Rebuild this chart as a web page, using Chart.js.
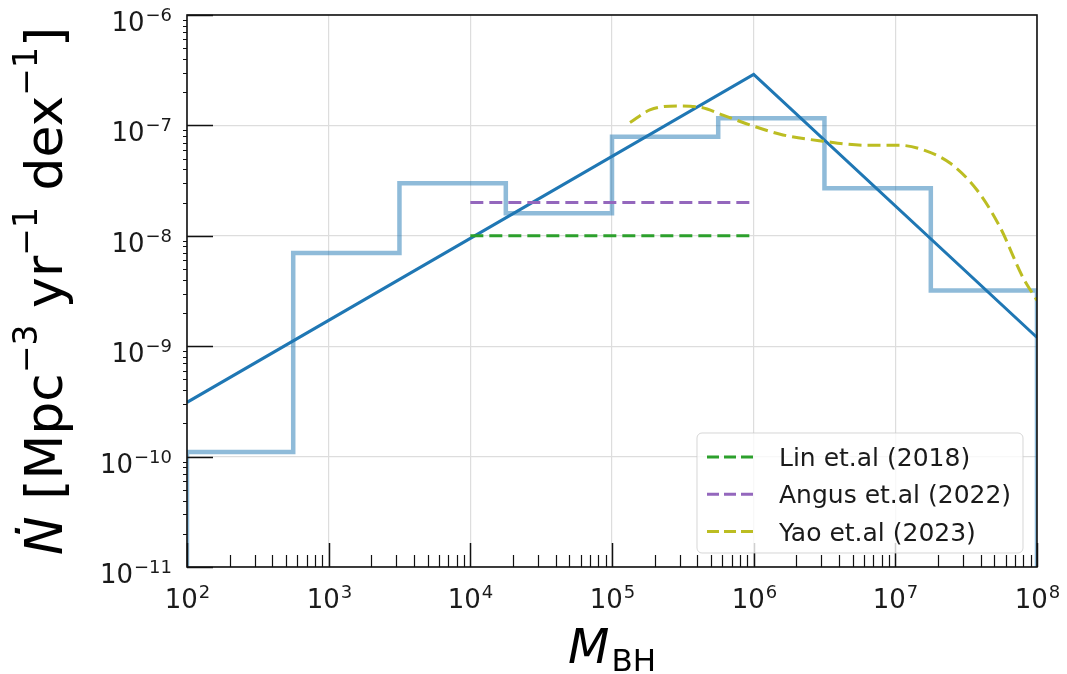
<!DOCTYPE html>
<html><head><meta charset="utf-8">
<script src="https://cdn.jsdelivr.net/npm/chart.js@4/dist/chart.umd.min.js"></script>
<style>html,body{margin:0;padding:0;background:#fff;}#wrap{width:1067px;height:674px;position:relative;}</style>
</head><body><div id="wrap"><canvas id="c" width="1067" height="674"></canvas></div>
<script>
// ---- data ----
const binEdges = [1e2, 5.62e2, 3.16e3, 1.78e4, 1e5, 5.62e5, 3.16e6, 1.78e7, 1e8];
const binRates = [1.1e-10, 7.0e-9, 3.0e-8, 1.6e-8, 7.9e-8, 1.16e-7, 2.7e-8, 3.2e-9];
const histFloor = 1e-11;
const modelMass = [1e2, 1e6, 1e8];
const modelRate = [3.1e-10, 2.9e-7, 1.2e-9];
const linMass = [1e4, 1e6];
const linRate = [1e-8, 1e-8];
const angusMass = [1e4, 1e6];
const angusRate = [2.0e-8, 2.0e-8];
const yaoMass = [1.34e5, 1.85e5, 2.87e5, 4.18e5, 6.07e5, 9.4e5, 1.61e6, 3.09e6, 6.3e6, 1.08e7, 1.57e7, 2.43e7, 3.77e7, 5.48e7, 7.95e7, 1e8];
const yaoRate = [1.06e-7, 1.38e-7, 1.50e-7, 1.46e-7, 1.24e-7, 1.01e-7, 8.2e-8, 7.2e-8, 6.6e-8, 6.6e-8, 6.0e-8, 4.56e-8, 2.6e-8, 1.2e-8, 4.2e-9, 2.6e-9];
const xTickExps = [2, 3, 4, 5, 6, 7, 8];
const yTickExps = [-11, -10, -9, -8, -7, -6];
const minorMults = [2, 3, 4, 5, 6, 7, 8, 9];
const legendLabels = ['Lin et.al (2018)', 'Angus et.al (2022)', 'Yao et.al (2023)'];
const xTitleMain = 'M', xTitleSub = 'BH';
const yTitleParts = [['Ṅ', 'i'], [' [Mpc', 'n'], ['\u22123', 's'], [' yr', 'n'], ['\u22121', 's'], [' dex', 'n'], ['\u22121', 's'], [']', 'n']];

// ---- build library data ----
const pts = (xs, ys) => xs.map((v, i) => ({x: v, y: ys[i]}));
const histPts = [{x: binEdges[0], y: histFloor}];
binRates.forEach((r, i) => histPts.push({x: binEdges[i], y: r}));
histPts.push({x: binEdges[binEdges.length - 1], y: binRates[binRates.length - 1]});
histPts.push({x: binEdges[binEdges.length - 1], y: histFloor});

const FONT = '"DejaVu Sans", sans-serif';
const dash = [13, 6];

function powLabel(ctx, exp, ax, baseline, align) {
  const base = '10', sup = (exp < 0 ? '\u2212' : '') + Math.abs(exp);
  ctx.font = '26px ' + FONT; const wb = ctx.measureText(base).width;
  ctx.font = '18px ' + FONT; const ws = ctx.measureText(sup).width;
  const total = wb + 1 + ws;
  const x0 = align === 'center' ? ax - total / 2 : ax - total;
  ctx.textAlign = 'left'; ctx.textBaseline = 'alphabetic';
  ctx.font = '26px ' + FONT; ctx.fillText(base, x0, baseline);
  ctx.font = '18px ' + FONT; ctx.fillText(sup, x0 + wb + 1, baseline - 10);
}

const decor = {
  id: 'decor',
  afterDraw(chart) {
    const {ctx, chartArea: a, scales: {x, y}} = chart;
    ctx.save();
    ctx.strokeStyle = '#111'; ctx.fillStyle = '#1a1a1a';
    const seg = (x1, y1, x2, y2) => { ctx.beginPath(); ctx.moveTo(x1, y1); ctx.lineTo(x2, y2); ctx.stroke(); };
    xTickExps.forEach((e, i) => {
      const px = Math.round(x.getPixelForValue(Math.pow(10, e))) + 0.5;
      ctx.lineWidth = 1.5; seg(px, a.bottom, px, a.bottom - 24);
      if (i < xTickExps.length - 1) minorMults.forEach(m => {
        const q = Math.round(x.getPixelForValue(m * Math.pow(10, e))) + 0.5;
        ctx.lineWidth = 1.2; seg(q, a.bottom, q, a.bottom - 12);
      });
      powLabel(ctx, e, px, 608, 'center');
    });
    yTickExps.forEach((e, i) => {
      const py = Math.round(y.getPixelForValue(Math.pow(10, e))) + 0.5;
      ctx.lineWidth = 1.5; seg(a.left, py, a.left + 26, py);
      if (i < yTickExps.length - 1) minorMults.forEach(m => {
        const q = Math.round(y.getPixelForValue(m * Math.pow(10, e))) + 0.5;
        ctx.lineWidth = 1.0; seg(a.left, q, a.left - 4, q);
      });
      powLabel(ctx, e, 172, py + 15, 'right');
    });
    ctx.lineWidth = 1.6; ctx.strokeStyle = '#111';
    ctx.strokeRect(a.left, a.top, a.right - a.left, a.bottom - a.top);

    // x title
    ctx.fillStyle = '#000';
    ctx.font = 'italic 48px ' + FONT; const wm = ctx.measureText(xTitleMain).width;
    ctx.font = '31px ' + FONT; const wsub = ctx.measureText(xTitleSub).width;
    const cx = (a.left + a.right) / 2, tot = wm + 2 + wsub;
    ctx.textAlign = 'left'; ctx.textBaseline = 'alphabetic';
    ctx.font = 'italic 48px ' + FONT; ctx.fillText(xTitleMain, cx - tot / 2, 663);
    ctx.font = '31px ' + FONT; ctx.fillText(xTitleSub, cx - tot / 2 + wm + 2, 671);

    // y title (rotated)
    const fontOf = k => k === 'i' ? 'italic 52px ' + FONT : (k === 's' ? '33px ' + FONT : '52px ' + FONT);
    const widths = yTitleParts.map(([t, k]) => { ctx.font = fontOf(k); return ctx.measureText(t).width; });
    const ytot = widths.reduce((s, w) => s + w, 0);
    ctx.save();
    ctx.translate(62, (a.top + a.bottom) / 2);
    ctx.rotate(-Math.PI / 2);
    let xx = -ytot / 2;
    yTitleParts.forEach(([t, k], i) => {
      ctx.font = fontOf(k);
      ctx.fillText(t, xx, k === 's' ? -25 : 0);
      xx += widths[i];
    });
    ctx.restore();

    // legend
    const lx = 697, ly = 433, lw = 326, lh = 120, r = 5;
    ctx.beginPath();
    ctx.moveTo(lx + r, ly); ctx.lineTo(lx + lw - r, ly); ctx.arcTo(lx + lw, ly, lx + lw, ly + r, r);
    ctx.lineTo(lx + lw, ly + lh - r); ctx.arcTo(lx + lw, ly + lh, lx + lw - r, ly + lh, r);
    ctx.lineTo(lx + r, ly + lh); ctx.arcTo(lx, ly + lh, lx, ly + lh - r, r);
    ctx.lineTo(lx, ly + r); ctx.arcTo(lx, ly, lx + r, ly, r); ctx.closePath();
    ctx.fillStyle = 'rgba(255,255,255,0.8)'; ctx.fill();
    ctx.strokeStyle = 'rgba(204,204,204,0.8)'; ctx.lineWidth = 1; ctx.stroke();
    const legendSets = chart.data.datasets.filter(d => d.inLegend);
    legendSets.forEach((d, i) => {
      const ry = 457 + i * 37.3;
      ctx.strokeStyle = d.borderColor; ctx.lineWidth = 3; ctx.setLineDash([12, 5]);
      seg(707, ry, 757, ry);
      ctx.setLineDash([]);
      ctx.fillStyle = '#1a1a1a'; ctx.font = '25px ' + FONT;
      ctx.fillText(d.label, 779, ry + 9);
    });
    ctx.restore();
  }
};

const common = {pointRadius: 0, fill: false, clip: 0, tension: 0};
new Chart(document.getElementById('c'), {
  type: 'line',
  data: {datasets: [
    Object.assign({label: 'histogram', data: histPts, stepped: 'before', borderColor: 'rgba(31,119,180,0.5)', borderWidth: 4.5, order: 5}, common),
    Object.assign({label: 'model', data: pts(modelMass, modelRate), borderColor: '#1f77b4', borderWidth: 3, order: 4}, common),
    Object.assign({label: legendLabels[0], inLegend: true, data: pts(linMass, linRate), borderColor: '#2ca02c', borderWidth: 3, borderDash: dash, order: 3}, common),
    Object.assign({label: legendLabels[1], inLegend: true, data: pts(angusMass, angusRate), borderColor: '#9467bd', borderWidth: 3, borderDash: dash, order: 2}, common),
    Object.assign({label: legendLabels[2], inLegend: true, data: pts(yaoMass, yaoRate), borderColor: '#bcbd22', borderWidth: 3, borderDash: dash, order: 1, cubicInterpolationMode: 'monotone'}, common)
  ]},
  options: {
    responsive: false, animation: false, devicePixelRatio: 1,
    layout: {padding: {left: 0, right: 30, top: 15, bottom: 0}},
    plugins: {legend: {display: false}, tooltip: {enabled: false}},
    scales: {
      x: {type: 'logarithmic', min: 1e2, max: 1e8,
        afterBuildTicks: s => { s.ticks = xTickExps.map(e => ({value: Math.pow(10, e), major: true})); },
        afterFit: s => { s.height = 107; },
        ticks: {display: false}, border: {display: false},
        grid: {color: '#dddddd', lineWidth: 1.2, drawTicks: false}},
      y: {type: 'logarithmic', min: 1e-11, max: 1e-6,
        afterBuildTicks: s => { s.ticks = yTickExps.map(e => ({value: Math.pow(10, e), major: true})); },
        afterFit: s => { s.width = 187; },
        ticks: {display: false}, border: {display: false},
        grid: {color: '#dddddd', lineWidth: 1.2, drawTicks: false}}
    }
  },
  plugins: [decor]
});
</script></body></html>
